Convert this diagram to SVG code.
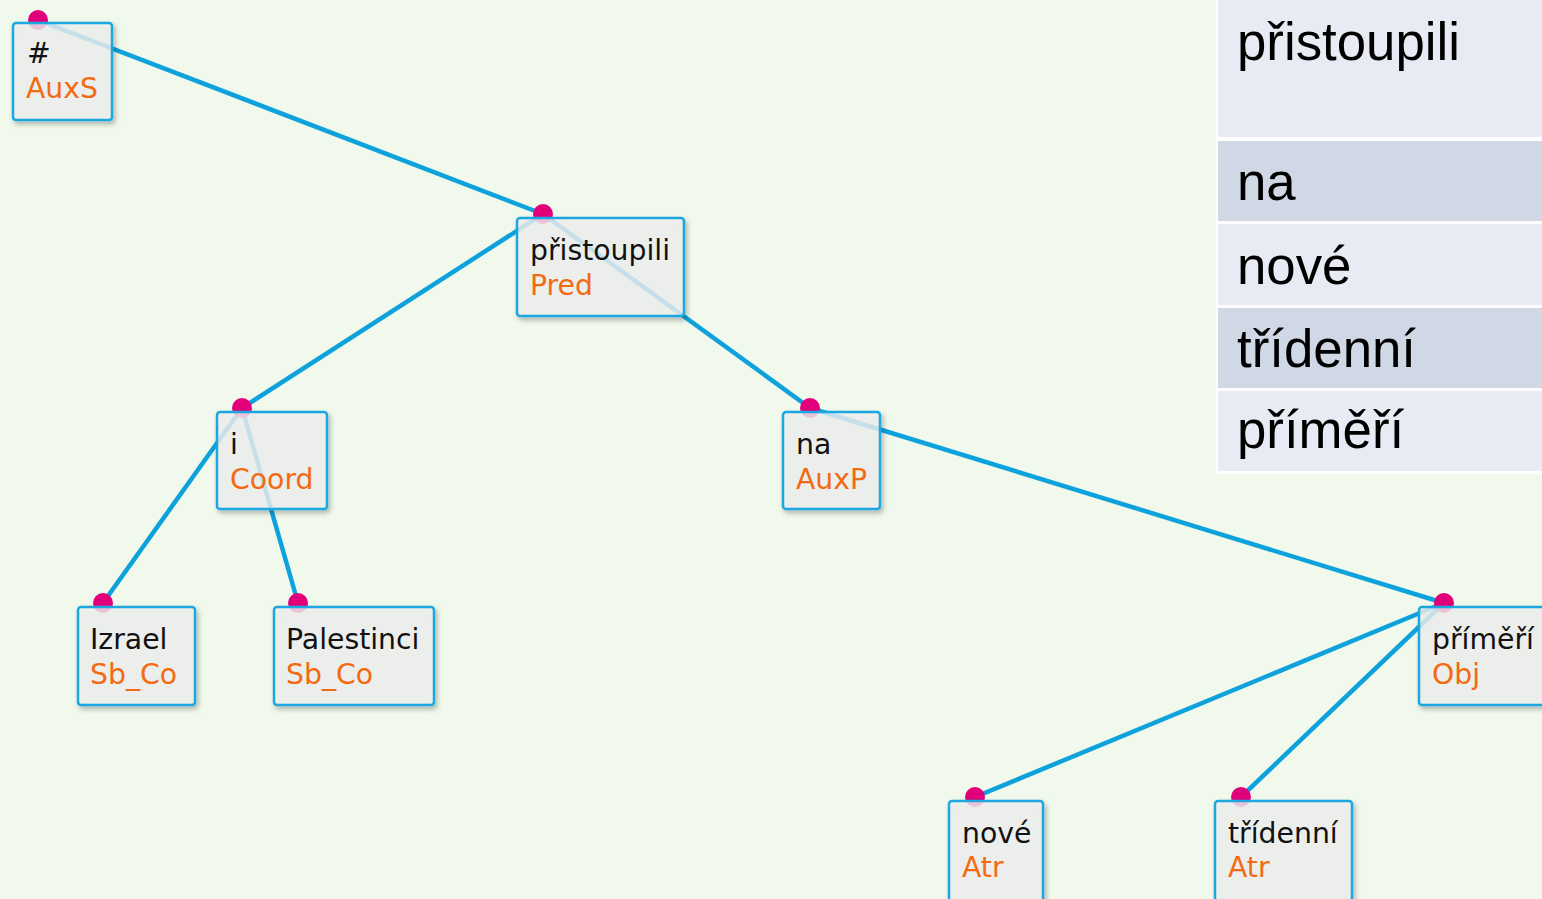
<svg xmlns="http://www.w3.org/2000/svg" width="1542" height="899" viewBox="0 0 1542 899">
<style>
.edge{stroke:#0ea2dd;stroke-width:4.5;stroke-linecap:round;fill:none}
.dot{fill:#e2007a}
.box{fill:#f2f2f2;fill-opacity:0.78;stroke:#1ba7e1;stroke-width:2.5}
.w{font-family:"DejaVu Sans",Verdana,sans-serif;font-size:28.3px;fill:#111}
.t{font-family:"DejaVu Sans",Verdana,sans-serif;font-size:28.3px;fill:#f26a12}
.tb{font-family:"Liberation Sans",Arial,sans-serif;font-size:52.8px;fill:#000}
</style>
<defs>
<filter id="sh" x="-20%" y="-20%" width="140%" height="140%">
<feDropShadow dx="2" dy="3" stdDeviation="2.5" flood-color="#000" flood-opacity="0.3"/>
</filter>
</defs>
<rect width="1542" height="899" fill="#f1f9ec"/>
<g id="table">
<rect x="1216" y="0" width="326" height="474" fill="#ffffff"/>
<rect x="1218" y="0" width="324" height="137" fill="#e8ebf3"/>
<rect x="1218" y="141" width="324" height="80" fill="#d0d8e6"/>
<rect x="1218" y="224" width="324" height="81" fill="#e8ebf3"/>
<rect x="1218" y="308" width="324" height="80" fill="#d0d8e6"/>
<rect x="1218" y="391" width="324" height="80" fill="#e8ebf3"/>
<text class="tb" x="1237" y="60">přistoupili</text>
<text class="tb" x="1237" y="200">na</text>
<text class="tb" x="1237" y="284">nové</text>
<text class="tb" x="1237" y="367">třídenní</text>
<text class="tb" x="1237" y="448">příměří</text>
</g>
<g id="connectors">
<line class="edge" x1="38" y1="20" x2="543" y2="214"/>
<line class="edge" x1="543" y1="214" x2="242" y2="408"/>
<line class="edge" x1="543" y1="214" x2="810" y2="408"/>
<line class="edge" x1="242" y1="408" x2="103" y2="603"/>
<line class="edge" x1="242" y1="408" x2="298" y2="603"/>
<line class="edge" x1="810" y1="408" x2="1444" y2="603"/>
<line class="edge" x1="1444" y1="603" x2="975" y2="797"/>
<line class="edge" x1="1444" y1="603" x2="1241" y2="797"/>
</g>
<g id="n-root">
<circle class="dot" cx="38" cy="20" r="10"/>
<rect class="box" x="13" y="23" width="99" height="97" rx="3" filter="url(#sh)"/>
<text class="w" x="27" y="63">#</text>
<text class="t" x="26" y="98">AuxS</text>
</g>
<g id="n-pristoupili">
<circle class="dot" cx="543" cy="214" r="10"/>
<rect class="box" x="517" y="218" width="167" height="98" rx="3" filter="url(#sh)"/>
<text class="w" x="530" y="260">přistoupili</text>
<text class="t" x="530" y="295">Pred</text>
</g>
<g id="n-i">
<circle class="dot" cx="242" cy="408" r="10"/>
<rect class="box" x="217" y="412" width="110" height="97" rx="3" filter="url(#sh)"/>
<text class="w" x="230" y="454">i</text>
<text class="t" x="230" y="489">Coord</text>
</g>
<g id="n-na">
<circle class="dot" cx="810" cy="408" r="10"/>
<rect class="box" x="783" y="412" width="97" height="97" rx="3" filter="url(#sh)"/>
<text class="w" x="796" y="454">na</text>
<text class="t" x="796" y="489">AuxP</text>
</g>
<g id="n-izrael">
<circle class="dot" cx="103" cy="603" r="10"/>
<rect class="box" x="78" y="607" width="117" height="98" rx="3" filter="url(#sh)"/>
<text class="w" x="90" y="649">Izrael</text>
<text class="t" x="90" y="684">Sb_Co</text>
</g>
<g id="n-palestinci">
<circle class="dot" cx="298" cy="603" r="10"/>
<rect class="box" x="274" y="607" width="160" height="98" rx="3" filter="url(#sh)"/>
<text class="w" x="286" y="649">Palestinci</text>
<text class="t" x="286" y="684">Sb_Co</text>
</g>
<g id="n-primeri">
<circle class="dot" cx="1444" cy="603" r="10"/>
<rect class="box" x="1419" y="607" width="140" height="98" rx="3" filter="url(#sh)"/>
<text class="w" x="1432" y="649">příměří</text>
<text class="t" x="1432" y="684">Obj</text>
</g>
<g id="n-nove">
<circle class="dot" cx="975" cy="797" r="10"/>
<rect class="box" x="949" y="801" width="94" height="100" rx="3" filter="url(#sh)"/>
<text class="w" x="962" y="843">nové</text>
<text class="t" x="962" y="877">Atr</text>
</g>
<g id="n-tridenni">
<circle class="dot" cx="1241" cy="797" r="10"/>
<rect class="box" x="1215" y="801" width="137" height="100" rx="3" filter="url(#sh)"/>
<text class="w" x="1228" y="843">třídenní</text>
<text class="t" x="1228" y="877">Atr</text>
</g>
</svg>
